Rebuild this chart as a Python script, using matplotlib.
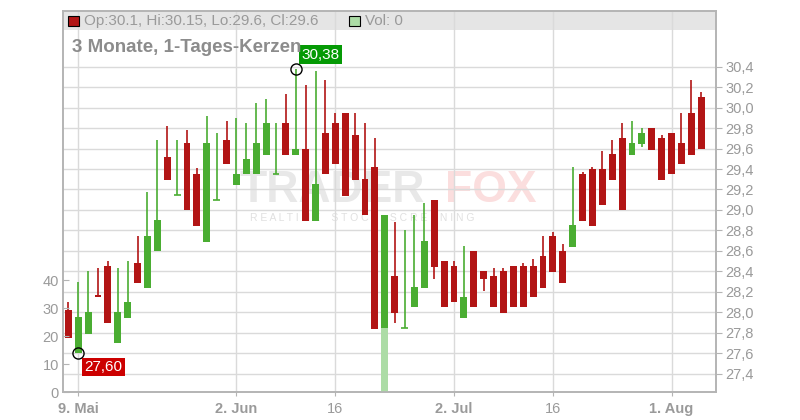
import matplotlib.pyplot as plt
from matplotlib.patches import Rectangle
import numpy as np

plt.rcParams['font.family'] = ['Liberation Sans', 'DejaVu Sans']

# daily candles, 8 May .. 5 Aug (trading days)
opens = [28.02, 27.60, 27.79, 28.17, 28.45, 27.70, 27.94, 28.48, 28.24, 28.60,
         29.52, 29.15, 29.65, 29.35, 28.69, 29.10, 29.68, 29.24, 29.35, 29.35,
         29.54, 29.35, 29.85, 29.54, 29.60, 28.89, 29.75, 29.85, 29.95, 29.73,
         29.30, 29.42, 27.84, 28.35, 27.85, 28.05, 28.24, 29.10, 28.50, 28.45,
         27.94, 28.60, 28.40, 28.35, 28.40, 28.45, 28.45, 28.45, 28.55, 28.75,
         28.60, 28.64, 29.35, 29.40, 29.40, 29.55, 29.70, 29.54, 29.64, 29.80,
         29.70, 29.75, 29.65, 29.95, 30.10]
highs = [28.10, 28.30, 28.40, 28.43, 28.50, 28.43, 28.50, 28.75, 29.18, 29.68,
         29.82, 29.68, 29.78, 29.41, 29.92, 29.75, 29.87, 29.90, 29.85, 30.05,
         30.08, 29.85, 30.13, 30.38, 30.22, 30.36, 30.27, 29.95, 29.95, 29.95,
         29.85, 29.70, 28.95, 28.88, 28.80, 28.95, 29.07, 29.10, 28.50, 28.50,
         28.65, 28.60, 28.40, 28.43, 28.43, 28.45, 28.48, 28.52, 28.75, 28.78,
         28.67, 29.42, 29.37, 29.42, 29.58, 29.68, 29.85, 29.87, 29.80, 29.80,
         29.73, 29.75, 29.95, 30.27, 30.15]
lows = [27.75, 27.60, 27.79, 28.15, 27.89, 27.70, 27.94, 28.29, 28.24, 28.60,
        29.29, 29.15, 29.00, 28.84, 28.69, 29.10, 29.45, 29.24, 29.35, 29.35,
        29.54, 29.35, 29.54, 29.54, 28.89, 28.89, 29.35, 29.45, 29.14, 29.29,
        28.95, 27.84, 27.84, 27.89, 27.85, 28.05, 28.24, 28.32, 28.05, 28.10,
        27.94, 28.05, 28.21, 28.05, 27.99, 28.05, 28.05, 28.15, 28.24, 28.39,
        28.29, 28.64, 28.89, 28.84, 29.05, 29.29, 29.00, 29.54, 29.62, 29.59,
        29.29, 29.35, 29.45, 29.54, 29.60]
closes = [27.75, 27.95, 28.00, 28.15, 27.89, 28.00, 28.10, 28.29, 28.75, 28.90,
          29.29, 29.15, 29.00, 28.84, 29.65, 29.10, 29.45, 29.35, 29.50, 29.65,
          29.85, 29.35, 29.54, 29.60, 28.89, 29.25, 29.35, 29.45, 29.14, 29.29,
          28.95, 27.84, 28.95, 27.99, 27.85, 28.25, 28.70, 28.44, 28.05, 28.10,
          28.15, 28.05, 28.32, 28.05, 27.99, 28.05, 28.05, 28.15, 28.24, 28.39,
          28.29, 28.85, 28.89, 28.84, 29.05, 29.29, 29.00, 29.65, 29.75, 29.59,
          29.29, 29.35, 29.45, 29.54, 29.60]
volumes = [0] * 32 + [23] + [0] * 32

date_ticks = [1, 17, 27, 39, 49, 61]
date_labels = ['9. Mai', '2. Jun', '16', '2. Jul', '16', '1. Aug']
date_bold = [True, True, False, True, False, True]
price_ticks = [27.4, 27.6, 27.8, 28.0, 28.2, 28.4, 28.6, 28.8, 29.0, 29.2,
               29.4, 29.6, 29.8, 30.0, 30.2, 30.4]
vol_ticks = [0, 10, 20, 30, 40]

RED = '#b21515'
GREEN = '#4aad32'
GRID = '#dadada'
FRAME = '#b4b4b4'
TXT = '#9a9a9a'

fig = plt.figure(figsize=(8, 4.2), dpi=100)
rect = [63 / 800, 1 - 392 / 420, (716 - 63) / 800, (392 - 11) / 420]
ax = fig.add_axes(rect)
axv = fig.add_axes(rect, sharex=ax)
axv.patch.set_visible(False)

x = np.arange(len(opens))
o = np.array(opens)
c = np.array(closes)
colors = [GREEN if cc >= oo else RED for oo, cc in zip(o, c)]

# header band
ax.add_patch(Rectangle((0, (392 - 30) / 381), 1, 1, transform=ax.transAxes,
                       facecolor='#e5e5e5', edgecolor='none', zorder=0.1))

# watermark
ax.text(0.271, 0.528, 'TRADER', transform=ax.transAxes, fontsize=32,
        fontweight='bold', color='#e8e8e8', ha='left', va='center', zorder=0.2)
ax.text(0.585, 0.528, 'FOX', transform=ax.transAxes, fontsize=32,
        fontweight='bold', color='#fbdede', ha='left', va='center', zorder=0.2)
ax.text(0.287, 0.457, 'R E A L T I M E    S T O C K    S C R E E N I N G',
        transform=ax.transAxes, fontsize=7.5, color='#e0e0e0', ha='left',
        va='center', zorder=0.2)

ax.vlines(x, lows, highs, colors=colors, lw=1.2, zorder=2)
body_h = np.abs(c - o)
ax.bar(x, body_h, bottom=np.minimum(o, c), width=0.7, color=colors, zorder=3)
doji = body_h == 0
ax.hlines(o[doji], x[doji] - 0.35, x[doji] + 0.35,
          colors=[colors[i] for i in x[doji]], lw=1.2, zorder=3)

# max / min markers
i_hi = int(np.argmax(highs))
i_lo = int(np.argmin(lows))
ax.plot(i_hi, highs[i_hi], marker='o', ms=8, mfc='none', mec='black', mew=1, zorder=4)
ax.plot(i_lo, lows[i_lo], marker='o', ms=8, mfc='none', mec='black', mew=1, zorder=4)
ax.annotate(f'{highs[i_hi]:.2f}'.replace('.', ','), (i_hi, highs[i_hi]),
            xytext=(25, 14), textcoords='offset pixels', ha='center', va='center',
            color='white', fontsize=11,
            bbox=dict(boxstyle='square,pad=0.15', fc='#059a05', ec='none'), zorder=5)
ax.annotate(f'{lows[i_lo]:.2f}'.replace('.', ','), (i_lo, lows[i_lo]),
            xytext=(25, -14), textcoords='offset pixels', ha='center', va='center',
            color='white', fontsize=11,
            bbox=dict(boxstyle='square,pad=0.15', fc='#cc0000', ec='none'), zorder=5)

axv.bar(x, volumes, width=0.7, color='#acdca6', zorder=2)

ax.set_xlim(-0.54, 65.49)
ax.set_ylim(27.22, 30.945)
axv.set_ylim(0, 136.5)

ax.set_axisbelow(True)
ax.grid(True, color=GRID, lw=1)
ax.set_xticks(date_ticks)
ax.set_xticklabels(date_labels)
for lab, b in zip(ax.get_xticklabels(), date_bold):
    lab.set_fontweight('bold' if b else 'normal')
ax.set_yticks(price_ticks)
ax.set_yticklabels([f'{v:.1f}'.replace('.', ',') for v in price_ticks])
ax.yaxis.tick_right()
ax.tick_params(axis='y', colors=FRAME, labelcolor=TXT, labelsize=10.5, length=4, pad=3)
ax.tick_params(axis='x', colors=FRAME, labelcolor=TXT, labelsize=10.5, length=3, pad=4)

axv.set_yticks(vol_ticks)
axv.yaxis.tick_left()
axv.tick_params(axis='y', direction='in', colors=FRAME, labelcolor=TXT,
                labelsize=10.5, length=4, pad=3)
axv.tick_params(axis='x', bottom=False, labelbottom=False)

for a in (ax, axv):
    for s in a.spines.values():
        s.set_color(FRAME)
        s.set_linewidth(1.2)

# header texts
fig.patches.append(Rectangle((68 / 800, 1 - 26 / 420), 11 / 800, 10 / 420,
                             transform=fig.transFigure, fc=RED, ec='black', lw=0.8))
fig.text(84 / 800, 1 - 21 / 420,
         f'Op:{opens[-1]:g}, Hi:{highs[-1]:g}, Lo:{lows[-1]:g}, Cl:{closes[-1]:g}',
         fontsize=11, color=TXT, va='center')
fig.patches.append(Rectangle((349 / 800, 1 - 26 / 420), 11 / 800, 10 / 420,
                             transform=fig.transFigure, fc='#acdca6', ec='black', lw=0.8))
fig.text(365 / 800, 1 - 21 / 420, f'Vol: {volumes[-1]}', fontsize=11, color=TXT,
         va='center')
fig.text(72 / 800, 1 - 47 / 420, '3 Monate, 1-Tages-Kerzen', fontsize=13.5,
         fontweight='bold', color='#8c8c8c', va='center')

fig.savefig('out.png', dpi=100)
